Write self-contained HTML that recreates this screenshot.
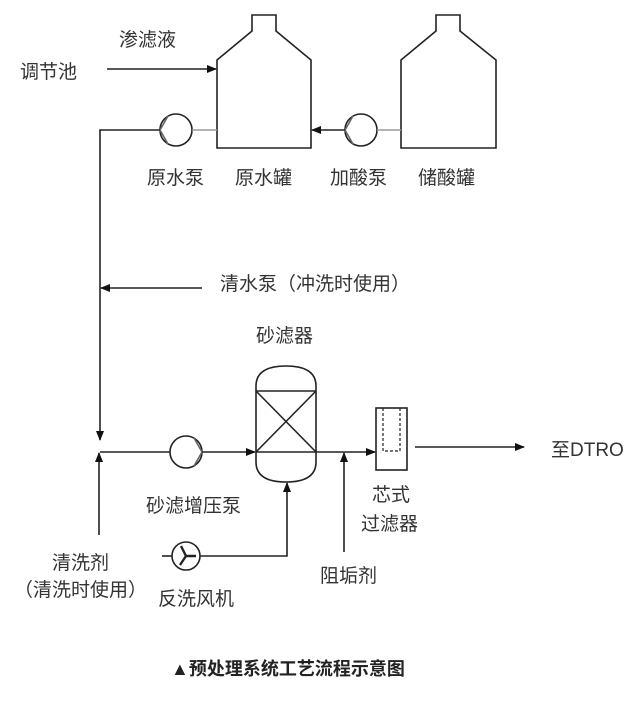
<!DOCTYPE html>
<html><head><meta charset="utf-8"><style>
body{margin:0;background:#fff}
svg text{font-family:"Liberation Sans","Noto Sans CJK SC",sans-serif;font-size:19px;fill:#333}
</style></head><body>
<svg width="640" height="698" viewBox="0 0 640 698" xmlns="http://www.w3.org/2000/svg">
<defs><marker id="a" markerWidth="10" markerHeight="8" refX="9" refY="4" orient="auto" markerUnits="userSpaceOnUse"><path d="M0,0 L10,4 L0,8 Z" fill="#111"/></marker></defs>
<g stroke="#222" stroke-width="1.6" fill="none">
<path d="M217,148 V60 L252,31 V15 H276 V31 L311,60 V148 Z"/>
<path d="M401,148 V60 L436,31 V15 H460 V31 L496,60 V148 Z"/>
<line x1="107" y1="69" x2="216" y2="69" marker-end="url(#a)"/>
<circle cx="176" cy="130" r="16"/>
<path d="M168,116 L160,130 L168,144" stroke="#666"/>
<line x1="192" y1="130" x2="217" y2="130" stroke="#999"/>
<path d="M160,130 H100 V440" marker-end="url(#a)"/>
<circle cx="361" cy="130" r="16"/>
<path d="M353,116 L345,130 L353,144" stroke="#666"/>
<line x1="377" y1="130" x2="401" y2="130" stroke="#999"/>
<line x1="345" y1="130" x2="312" y2="130" marker-end="url(#a)"/>
<line x1="202" y1="288" x2="101" y2="288" marker-end="url(#a)"/>
<line x1="99" y1="535" x2="99" y2="453" marker-end="url(#a)"/>
<line x1="100" y1="452" x2="170" y2="452"/>
<circle cx="186" cy="452" r="16"/>
<path d="M194,438 L202,452 L194,466" stroke="#666"/>
<line x1="202" y1="452" x2="255" y2="452" marker-end="url(#a)"/>
<path d="M256,391 V386 Q256,366 286,366 Q316,366 316,386 V462 Q316,482 286,482 Q256,482 256,462 Z"/>
<line x1="256" y1="391" x2="316" y2="391"/>
<line x1="256" y1="391" x2="316" y2="452"/>
<line x1="316" y1="391" x2="256" y2="452"/>
<line x1="256" y1="452" x2="375" y2="452" marker-end="url(#a)"/>
<circle cx="186" cy="556" r="14"/>
<line x1="162" y1="556" x2="172" y2="556"/>
<path d="M200,556 H287 V483" marker-end="url(#a)"/>
<path d="M186,556 L181,546 M186,556 L196,556 M186,556 L180,565" stroke-width="2.4"/>
<line x1="344" y1="552" x2="344" y2="453" marker-end="url(#a)"/>
<rect x="376" y="408" width="31" height="62"/>
<path d="M383,408 V451 H400 V408" stroke-dasharray="3,2" stroke-width="1.2"/>
<line x1="415" y1="447" x2="524" y2="447" marker-end="url(#a)"/>
</g>
<text x="20" y="78">调节池</text>
<text x="119" y="46">渗滤液</text>
<text x="147" y="184">原水泵</text>
<text x="235" y="184">原水罐</text>
<text x="330" y="184">加酸泵</text>
<text x="418" y="184">储酸罐</text>
<text x="220" y="290">清水泵（冲洗时使用）</text>
<text x="256" y="342">砂滤器</text>
<text x="551" y="456">至DTRO</text>
<text x="146" y="512">砂滤增压泵</text>
<text x="372" y="501">芯式</text>
<text x="361" y="530">过滤器</text>
<text x="52" y="569">清洗剂</text>
<text x="14" y="596">（清洗时使用）</text>
<text x="158" y="605">反洗风机</text>
<text x="320" y="582">阻垢剂</text>
<text x="171" y="675" style="font-weight:bold;font-size:18px;fill:#222">▲预处理系统工艺流程示意图</text>
</svg>
</body></html>
